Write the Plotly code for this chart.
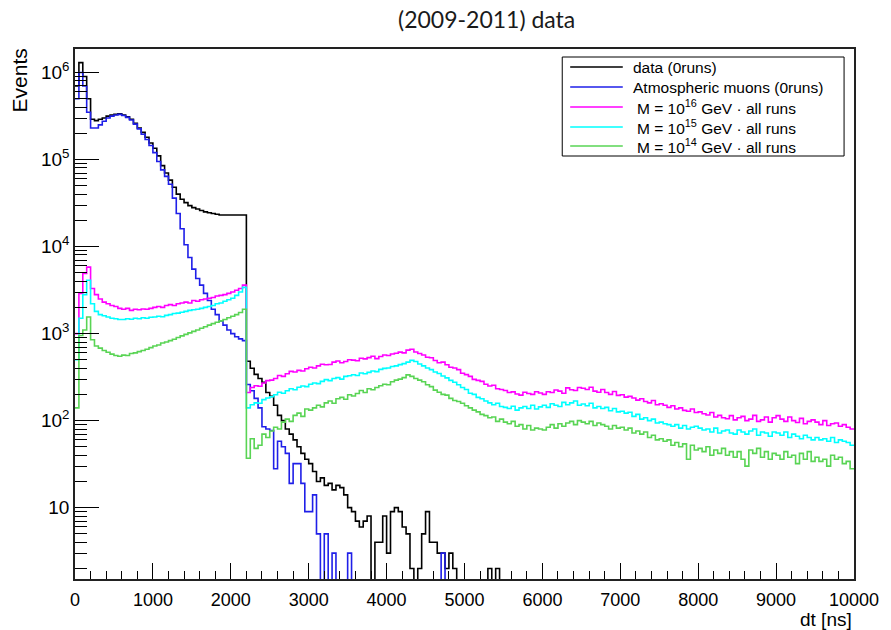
import numpy as np
import plotly.graph_objects as go

# ---- histogram binning: dt in ns, 50 ns bins from 0 to 10000 ----
BIN_LO, BIN_HI, BIN_W = 0, 10000, 50

# data (0runs)
data_counts = (
    [7.0e5, 1.3e6, 9.0e5, 5.0e5, 2.9e5, 2.8e5, 2.9e5, 3.0e5, 3.15e5, 3.25e5,
     3.3e5, 3.35e5, 3.25e5, 3.1e5, 2.9e5, 2.6e5, 2.3e5, 2.05e5, 1.8e5, 1.55e5,
     1.35e5, 1.1e5, 8.5e4, 7.0e4, 5.8e4, 4.8e4, 4.0e4, 3.5e4, 3.2e4, 2.95e4,
     2.8e4, 2.7e4, 2.6e4, 2.5e4, 2.45e4, 2.4e4, 2.35e4, 2.3e4, 2.3e4, 2.3e4,
     2.3e4, 2.3e4, 2.3e4, 2.3e4,
     480, 400, 340, 305, 275, 210, 190, 150, 115, 100,
     80, 70, 60, 50, 42, 36, 32, 26, 20, 22,
     18, 19, 16, 18, 17, 14, 10, 9, 7, 6,
     7, 8, 0, 4, 4, 8, 3, 9, 10, 9,
     6, 5, 2, 0, 2, 5, 9, 4, 4, 3,
     3, 2, 3, 2, 0, 0,
     0, 0, 0, 0, 0, 0, 2, 0, 2, 0]
    + [0] * 90
)

# Atmospheric muons (0runs)
muon_counts = (
    [5.0e5, 1.0e6, 7.0e5, 3.5e5, 2.3e5, 2.3e5, 2.5e5, 2.75e5, 3.0e5, 3.15e5,
     3.25e5, 3.3e5, 3.2e5, 3.05e5, 2.85e5, 2.55e5, 2.25e5, 1.95e5, 1.7e5, 1.45e5,
     1.2e5, 9.5e4, 7.6e4, 6.4e4, 5.2e4, 3.6e4, 2.4e4, 1.6e4, 1.05e4, 7.5e3,
     5.5e3, 4.3e3, 3.6e3, 2.9e3, 2.4e3, 1.9e3, 1.65e3, 1.4e3, 1.25e3, 1.1e3,
     1.0e3, 920, 870, 830,
     260, 220, 180, 140, 85, 80, 77, 28, 58, 50,
     42, 19, 32, 32, 19, 9, 9, 14, 5, 0,
     5, 0, 3, 0, 0, 0, 3, 0, 0, 0,
     0, 0, 0, 0, 0, 0, 0, 0, 0, 0,
     0, 0, 0, 0, 0, 0, 0, 0, 0, 0,
     3, 0, 0, 0, 0, 0]
    + [0] * 100
)

# M = 10^16 GeV, all runs
m16_counts = [
    1000, 2900, 4900, 5800, 3300, 2800, 2500, 2300, 2200, 2100,
    2050, 1950, 1900, 1950, 1850, 1900, 1880, 1920, 1900, 1950,
    2000, 2050, 2000, 2100, 2150, 2100, 2200, 2250, 2300, 2250,
    2400, 2350, 2450, 2500, 2550, 2600, 2700, 2750, 2800, 2900,
    3000, 3150, 3300, 3600, 210, 240, 252, 248, 270, 288,
    292, 305, 330, 322, 345, 368, 362, 378, 372, 395,
    410, 402, 425, 445, 438, 442, 470, 485, 462, 478,
    500, 495, 488, 520, 512, 530, 548, 515, 545, 568,
    560, 582, 595, 612, 600, 645, 660, 615, 590, 568,
    535, 528, 490, 462, 470, 438, 410, 402, 385, 350,
    338, 322, 298, 290, 282, 262, 250, 255, 232, 228,
    222, 210, 214, 202, 196, 212, 205, 200, 215, 208,
    200, 215, 210, 225, 218, 206, 238, 226, 222, 240,
    235, 228, 242, 218, 212, 228, 210, 200, 216, 195,
    198, 186, 190, 182, 172, 178, 166, 160, 170, 152,
    156, 150, 142, 148, 136, 140, 131, 128, 136, 124,
    126, 120, 116, 124, 110, 115, 108, 105, 114, 102,
    108, 112, 100, 104, 115, 98, 102, 110, 96, 108,
    114, 104, 98, 110, 100, 95, 106, 92, 98, 102,
    96, 90, 100, 88, 92, 94, 86, 90, 84, 80,
]

# M = 10^15 GeV, all runs
m15_counts = [
    500, 1500, 2800, 4100, 2200, 1800, 1650, 1600, 1550, 1500,
    1480, 1450, 1450, 1480, 1460, 1500, 1480, 1520, 1500, 1540,
    1550, 1580, 1560, 1620, 1650, 1700, 1720, 1760, 1800, 1850,
    1880, 1900, 1950, 2000, 2050, 2100, 2200, 2250, 2350, 2450,
    2550, 2750, 3000, 3400, 140, 152, 160, 158, 174, 182,
    188, 198, 212, 206, 220, 232, 226, 242, 250, 246,
    262, 270, 266, 282, 296, 288, 305, 312, 300, 322,
    328, 336, 330, 352, 346, 358, 372, 365, 388, 398,
    402, 418, 425, 440, 452, 470, 492, 478, 448, 425,
    402, 385, 362, 348, 325, 310, 290, 276, 258, 240,
    228, 206, 200, 185, 178, 168, 160, 152, 158, 145,
    142, 138, 146, 132, 140, 145, 138, 150, 136, 144,
    150, 142, 156, 150, 145, 162, 152, 160, 168, 150,
    155, 148, 158, 140, 145, 138, 142, 130, 138, 126,
    128, 122, 125, 112, 118, 104, 108, 100, 104, 94,
    96, 92, 90, 86, 90, 82, 88, 80, 84, 86,
    82, 78, 80, 74, 82, 72, 76, 78, 72, 70,
    78, 74, 70, 76, 80, 68, 74, 72, 66, 74,
    72, 68, 74, 64, 70, 66, 62, 68, 64, 60,
    64, 60, 62, 58, 64, 56, 60, 58, 56, 52,
]

# M = 10^14 GeV, all runs
m14_counts = [
    140, 950, 1100, 1550, 850, 720, 680, 640, 610, 580,
    560, 550, 565, 560, 590, 600, 620, 640, 660, 690,
    720, 740, 780, 800, 830, 860, 900, 940, 980, 1020,
    1060, 1100, 1150, 1200, 1250, 1300, 1350, 1400, 1450, 1520,
    1580, 1650, 1750, 1900, 37, 62, 48, 52, 70, 64,
    76, 84, 80, 96, 104, 98, 115, 122, 112, 136,
    132, 140, 150, 144, 160, 168, 158, 178, 185, 176,
    198, 192, 205, 222, 210, 232, 226, 240, 252, 262,
    258, 280, 292, 300, 312, 335, 322, 305, 292, 280,
    258, 246, 224, 212, 200, 196, 180, 170, 166, 158,
    148, 140, 132, 126, 118, 114, 108, 110, 98, 104,
    96, 92, 98, 86, 90, 80, 88, 78, 82, 80,
    78, 84, 90, 82, 92, 86, 94, 98, 90, 100,
    96, 92, 98, 88, 94, 90, 86, 80, 88, 82,
    84, 78, 82, 72, 76, 70, 74, 64, 68, 60,
    62, 58, 60, 52, 56, 50, 54, 36, 52, 46,
    48, 44, 50, 40, 46, 42, 48, 40, 44, 38,
    44, 36, 30, 46, 42, 48, 38, 44, 36, 42,
    40, 36, 44, 38, 40, 32, 42, 36, 44, 34,
    38, 34, 36, 30, 40, 36, 38, 32, 34, 28,
]

series_names = [
    "data (0runs)",
    "Atmospheric muons (0runs)",
    "M = 10<sup>16</sup> GeV · all runs",
    "M = 10<sup>15</sup> GeV · all runs",
    "M = 10<sup>14</sup> GeV · all runs",
]
series_counts = [data_counts, muon_counts, m16_counts, m15_counts, m14_counts]
series_colors = ["#000000", "#1f1fe8", "#ff00ff", "#00ffff", "#59d454"]

x_tick_vals = [0, 1000, 2000, 3000, 4000, 5000, 6000, 7000, 8000, 9000, 10000]
x_tick_text = ["0", "1000", "2000", "3000", "4000", "5000", "6000", "7000",
               "8000", "9000", "10000"]
y_tick_vals = [10, 100, 1e3, 1e4, 1e5, 1e6]
y_tick_text = ["10", "10<sup>2</sup>", "10<sup>3</sup>", "10<sup>4</sup>",
               "10<sup>5</sup>", "10<sup>6</sup>"]

Y_LOG_MIN, Y_LOG_MAX = 0.18, 6.27
EMPTY_BIN = 0.5  # empty bins drop below the axis floor, as in a log-scale TH1

edges = np.arange(BIN_LO, BIN_HI + BIN_W, BIN_W)
n_bins = len(edges) - 1
for c in series_counts:
    assert len(c) == n_bins, len(c)


def step_xy(counts):
    y = np.asarray(counts, dtype=float)
    y = np.where(y > 0, y, EMPTY_BIN)
    return edges, np.append(y, y[-1])


fig = go.Figure()
for name, counts, color in zip(series_names, series_counts, series_colors):
    xs, ys = step_xy(counts)
    fig.add_trace(go.Scatter(
        x=xs, y=ys, mode="lines", name=name,
        line=dict(color=color, width=1.6, shape="hv"),
        hoverinfo="skip",
    ))

FONT = "Liberation Sans, Arial, Helvetica, sans-serif"

minor_y = [m * 10 ** k for k in range(0, 7) for m in range(2, 10)
           if 10 ** Y_LOG_MIN <= m * 10 ** k <= 10 ** Y_LOG_MAX]

fig.update_layout(
    width=891, height=630,
    margin=dict(l=75, r=31, t=49, b=51, pad=0),
    paper_bgcolor="white", plot_bgcolor="white",
    showlegend=False,
    font=dict(family=FONT, color="black", size=18),
    xaxis=dict(
        range=[BIN_LO, BIN_HI],
        tickmode="array", tickvals=x_tick_vals, ticktext=x_tick_text,
        ticks="inside", ticklen=16, tickwidth=1, tickcolor="black",
        showline=True, mirror=True, linecolor="#222", linewidth=1.5,
        showgrid=False, zeroline=False,
        tickfont=dict(size=18), ticklabelstandoff=4,
        minor=dict(ticks="inside", ticklen=8, dtick=200, tick0=0,
                   tickwidth=1, tickcolor="black", showgrid=False),
    ),
    yaxis=dict(
        type="log", range=[Y_LOG_MIN, Y_LOG_MAX],
        tickmode="array", tickvals=y_tick_vals, ticktext=y_tick_text,
        ticks="inside", ticklen=24, tickwidth=1, tickcolor="black",
        showline=True, mirror=True, linecolor="#222", linewidth=1.5,
        showgrid=False, zeroline=False,
        tickfont=dict(size=19),
        minor=dict(tickmode="array", tickvals=minor_y, ticks="inside",
                   ticklen=12, tickwidth=1, tickcolor="black", showgrid=False),
    ),
)

# ---- pixel helpers for text and legend placement ----
PLOT_L, PLOT_R, PLOT_T, PLOT_B = 75, 860, 49, 579


def px_x(px):
    return (px - PLOT_L) / (PLOT_R - PLOT_L)


def px_y(py):
    return (PLOT_B - py) / (PLOT_B - PLOT_T)


annotations = [
    dict(text="(2009-2011) data", x=px_x(490), y=px_y(19), xref="paper", yref="paper",
         xanchor="center", yanchor="middle", showarrow=False,
         font=dict(family="Lato, Open Sans, sans-serif", size=23, color="#1a1a1a")),
    dict(text="Events", x=px_x(19), y=px_y(80), xref="paper", yref="paper",
         xanchor="center", yanchor="middle", textangle=-90, showarrow=False,
         font=dict(family=FONT, size=21, color="black")),
    dict(text="dt [ns]", x=px_x(860), y=px_y(619), xref="paper", yref="paper",
         xanchor="right", yanchor="middle", showarrow=False,
         font=dict(family=FONT, size=19, color="black")),
]

shapes = [
    dict(type="rect", xref="paper", yref="paper",
         x0=px_x(566), x1=px_x(850), y0=px_y(156), y1=px_y(57),
         line=dict(color="black", width=1), fillcolor="white", layer="above"),
]

legend_rows = [67, 87, 107, 127, 146]
for i, (name, color, row) in enumerate(zip(series_names, series_colors, legend_rows)):
    shapes.append(dict(type="line", xref="paper", yref="paper",
                       x0=px_x(574), x1=px_x(627), y0=px_y(row), y1=px_y(row),
                       line=dict(color=color, width=1.6), layer="above"))
    text_x = 635 if i < 2 else 639
    annotations.append(dict(text=name, x=px_x(text_x), y=px_y(row),
                            xref="paper", yref="paper", xanchor="left", yanchor="middle",
                            showarrow=False,
                            font=dict(family=FONT, size=15.5, color="black")))

fig.update_layout(annotations=annotations, shapes=shapes)

fig.write_html("out.html")
